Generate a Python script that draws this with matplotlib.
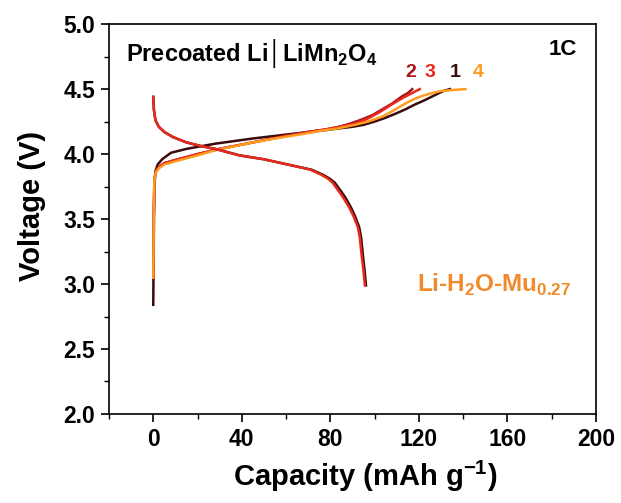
import matplotlib
matplotlib.use('Agg')
import matplotlib.pyplot as plt
from matplotlib.ticker import MultipleLocator

plt.rcParams['font.family'] = ['Liberation Sans', 'DejaVu Sans']
plt.rcParams['font.weight'] = 'bold'
plt.rcParams['mathtext.fontset'] = 'custom'
plt.rcParams['mathtext.rm'] = 'Liberation Sans:bold'
plt.rcParams['mathtext.bf'] = 'Liberation Sans:bold'

# charge curves, cycles 1-4 (capacity in mAh/g, voltage in V)
c1_cap = [0, 0.2, 0.5, 1.0, 2.0, 4.0, 8.0, 15, 28, 45, 60, 70, 78, 85, 90, 95, 100, 105, 110, 114, 118, 122, 125, 128, 131, 134]
c1_v = [2.84, 3.3, 3.75, 3.87, 3.92, 3.96, 4.01, 4.04, 4.08, 4.12, 4.15, 4.17, 4.185, 4.2, 4.21, 4.225, 4.25, 4.28, 4.315, 4.345, 4.38, 4.41, 4.435, 4.46, 4.485, 4.5]

c2_cap = [0, 0.2, 0.5, 1.2, 2.5, 5, 9, 20, 30, 45, 60, 70, 78, 84, 89, 94, 99, 104, 108, 112, 115, 117]
c2_v = [3.05, 3.5, 3.8, 3.87, 3.9, 3.93, 3.95, 4.0, 4.04, 4.09, 4.14, 4.17, 4.19, 4.21, 4.235, 4.265, 4.3, 4.35, 4.39, 4.44, 4.47, 4.5]

c3_cap = [0, 0.2, 0.5, 1.2, 2.5, 5, 9, 20, 30, 45, 60, 70, 78, 84, 90, 96, 102, 108, 113, 117, 120.4]
c3_v = [3.05, 3.5, 3.8, 3.87, 3.9, 3.93, 3.95, 4.0, 4.04, 4.09, 4.14, 4.17, 4.19, 4.21, 4.23, 4.265, 4.32, 4.385, 4.435, 4.47, 4.5]

c4_cap = [0, 0.2, 0.5, 1.2, 2.5, 5, 9, 20, 28, 45, 58.5, 66, 76, 84, 91, 97, 103.7, 109, 114, 118, 122, 126, 130, 135, 141]
c4_v = [3.05, 3.5, 3.8, 3.86, 3.89, 3.92, 3.94, 3.99, 4.03, 4.09, 4.13, 4.15, 4.18, 4.2, 4.225, 4.25, 4.29, 4.34, 4.39, 4.425, 4.45, 4.47, 4.485, 4.493, 4.5]

# discharge curves (cycles overlap almost exactly)
d_v = [4.44, 4.34, 4.26, 4.21, 4.17, 4.13, 4.09, 4.06, 4.04, 3.99, 3.96, 3.93, 3.9, 3.88, 3.84, 3.81, 3.78, 3.71, 3.66, 3.59, 3.52, 3.44, 3.36, 3.24, 3.1, 2.99]
d1_cap = [0, 0.3, 1, 2.5, 5, 9, 15, 22, 28, 39, 50, 58, 66, 71.5, 76.8, 79.8, 82, 85, 87, 89.3, 91.2, 93, 93.9, 94.6, 95.5, 96.1]
d3_cap = [0, 0.3, 1, 2.5, 5, 9, 15, 22, 28, 39, 50, 58, 66, 71, 76, 79, 81, 84, 86, 88.5, 90.5, 92.4, 93.3, 94, 95, 95.6]

cycle_labels = ['2', '3', '1', '4']
col1 = '#3c0a0a'
col2 = '#a3161a'
col3 = '#e8281c'
col4 = '#ff9b1e'
label_cols = [col2, col3, col1, col4]

fig = plt.figure(figsize=(6.21, 5.03), dpi=100)
ax = fig.add_axes([0.1755, 0.177, 0.7842, 0.775])

lw = 1.8
ax.plot(c1_cap, c1_v, color=col1, lw=lw)
ax.plot(c2_cap, c2_v, color=col2, lw=lw)
ax.plot(c3_cap, c3_v, color=col3, lw=lw)
ax.plot(c4_cap, c4_v, color=col4, lw=lw)
ax.plot(d1_cap, d_v, color=col1, lw=lw)
ax.plot(d3_cap, d_v, color=col3, lw=lw)

ax.set_xlim(-20, 200)
ax.set_ylim(2.0, 5.0)
ax.xaxis.set_major_locator(MultipleLocator(40))
ax.xaxis.set_minor_locator(MultipleLocator(20))
ax.yaxis.set_major_locator(MultipleLocator(0.5))
ax.yaxis.set_minor_locator(MultipleLocator(0.25))
ax.set_xticks([0, 40, 80, 120, 160, 200])
ax.tick_params(which='major', direction='out', length=6, width=1.2, labelsize=16.5, pad=4)
ax.tick_params(which='minor', direction='out', length=3.5, width=1.0)
for s in ax.spines.values():
    s.set_linewidth(1.2)
for t in ax.get_xticklabels() + ax.get_yticklabels():
    t.set_fontweight('bold')

ax.set_xlabel(r'Capacity (mAh g$^{\mathbf{-1}}$)', fontsize=21, fontweight='bold', labelpad=6)
ax.set_ylabel('Voltage (V)', fontsize=21, fontweight='bold', labelpad=12)
ax.xaxis.label.set_x(0.527)
ax.yaxis.label.set_y(0.533)

ax.text(0.035, 0.925, r'Precoated Li│LiMn$_\mathbf{2}$O$_\mathbf{4}$', transform=ax.transAxes,
        fontsize=17, fontweight='bold', va='center', ha='left')
ax.text(0.962, 0.935, '1C', transform=ax.transAxes, fontsize=16, fontweight='bold',
        va='center', ha='right')

label_x = [116.5, 125, 136.5, 147]
for lx, lab, c in zip(label_x, cycle_labels, label_cols):
    ax.text(lx, 4.63, lab, color=c, fontsize=14, fontweight='bold', ha='center', va='center')

ax.text(119, 2.99, r'Li-H$_\mathbf{2}$O-Mu$_\mathbf{0.27}$', color='#f08a2a', fontsize=17.5,
        fontweight='bold', ha='left', va='center')

fig.savefig('out.png', dpi=100)
